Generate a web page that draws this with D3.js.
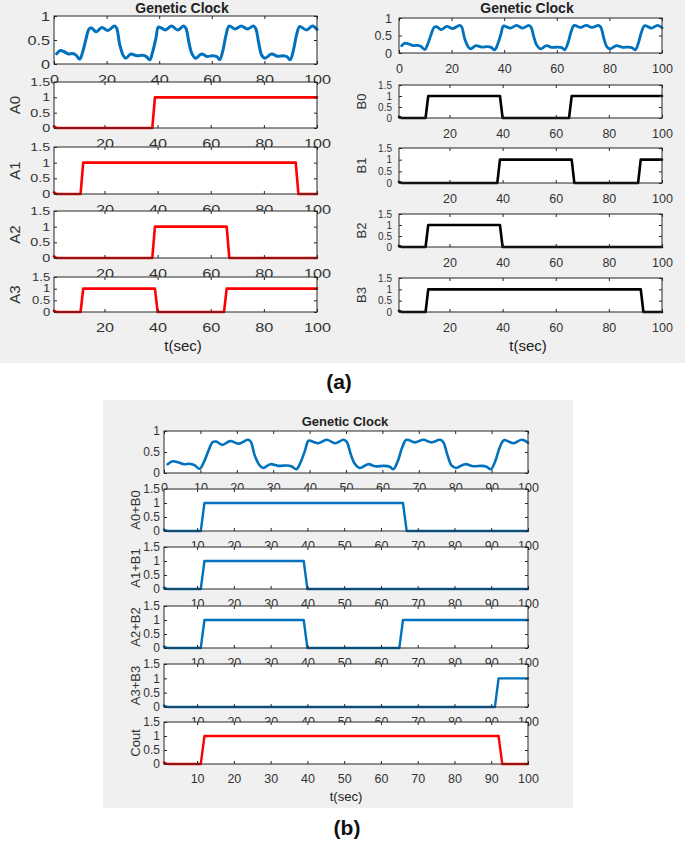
<!DOCTYPE html>
<html><head><meta charset="utf-8">
<script src="https://cdn.jsdelivr.net/npm/d3@7"></script>
<style>
body{margin:0;background:#fff;}
svg{display:block;}
text{font-family:"Liberation Sans",Arial,sans-serif;}
</style></head><body>
<svg id="c" width="685" height="841"></svg>
<script>
// ---------- data ----------
const clockT = [1,2.4,4,5.5,7,8.3,9.8,10.9,12.3,13.3,14.3,16,18.2,20.5,23,23.8,25,26.4,27.3,29.2,31.5,33.7,35,36.4,37.5,38.8,39.7,41.1,42.4,44.7,47,49.3,50.2,51.3,52.4,53.8,56.1,58,60.4,62,63,64.3,65.4,66.6,68.9,71.2,73.5,75.8,76.7,77.9,79,80.2,82.7,85,87.3,88.6,89.8,91,92.2,93.4,96,98.3,100];
const clockV = [0.21,0.28,0.25,0.21,0.22,0.19,0.10,0.25,0.55,0.73,0.75,0.67,0.76,0.70,0.79,0.75,0.40,0.17,0.12,0.21,0.17,0.18,0.16,0.09,0.25,0.55,0.77,0.74,0.71,0.79,0.71,0.79,0.74,0.45,0.22,0.12,0.21,0.16,0.17,0.15,0.09,0.30,0.60,0.79,0.73,0.79,0.73,0.79,0.74,0.42,0.18,0.12,0.21,0.16,0.17,0.15,0.09,0.28,0.60,0.78,0.71,0.79,0.72];

const A0_t = [1,2,38,39,100],               A0_v = [0.05,0,0,1,1];
const A1_t = [1,2,11,12,92,93,100],         A1_v = [0.05,0,0,1,1,0,0];
const A2_t = [1,2,38,39,66,67,100],         A2_v = [0.05,0,0,1,1,0,0];
const A3_t = [1,2,11,12,39,40,65,66,100],   A3_v = [0.05,0,0,1,1,0,0,1,1];
const B0_t = [1,2,11,12,39,40,65,66,100],   B0_v = [0.05,0,0,1,1,0,0,1,1];
const B1_t = [1,2,38,39,66,67,91,92,100],   B1_v = [0.05,0,0,1,1,0,0,1,1];
const B2_t = [1,2,11,12,39,40,100],         B2_v = [0.05,0,0,1,1,0,0];
const B3_t = [1,2,11,12,92,93,100],         B3_v = [0.05,0,0,1,1,0,0];
const S0_t = [1,2,11,12,66,67,100],         S0_v = [0.05,0,0,1,1,0,0];   // A0+B0
const S1_t = [1,2,11,12,39,40,100],         S1_v = [0.05,0,0,1,1,0,0];   // A1+B1
const S2_t = [1,2,11,12,39,40,65,66,100],   S2_v = [0.05,0,0,1,1,0,0,1,1]; // A2+B2
const S3_t = [1,2,91,92,100],               S3_v = [0.05,0,0,1,1];       // A3+B3
const Cout_t = [1,2,11,12,92,93,100],       Cout_v = [0.05,0,0,1,1,0,0];

const xTicksClockA = [0,20,40,60,80,100];
const xTicksA = [20,40,60,80,100];
const xTicksClockB = [0,10,20,30,40,50,60,70,80,90,100];
const xTicksB = [10,20,30,40,50,60,70,80,90,100];
const yTicksClock = [0,0.5,1];
const yTicksBin = [0,0.5,1,1.5];

const BLUE = "#0072BD", RED = "#FF0000", BLACK = "#000000";
const AXC = "#262626";

// ---------- drawing ----------
const svg = d3.select("#c");
svg.append("rect").attr("x",0).attr("y",0).attr("width",685).attr("height",363).attr("fill","#f0f0f0");
svg.append("rect").attr("x",103).attr("y",400).attr("width",470).attr("height",408).attr("fill","#f0f0f0");

function panel(o){
  const g = svg.append("g");
  const sx = o.sx || 1;
  const x = d3.scaleLinear().domain(o.xd).range([o.x0,o.x1]);
  const y = d3.scaleLinear().domain(o.yd).range([o.y1,o.y0]);
  g.append("rect").attr("x",o.x0).attr("y",o.y0).attr("width",o.x1-o.x0).attr("height",o.y1-o.y0).attr("fill","#fff");
  const pts = o.t.map((t,i)=>[t,o.v[i]]);
  const line = d3.line().x(d=>x(d[0])).y(d=>y(d[1])).curve(o.curve||d3.curveLinear);
  g.append("path").attr("d",line(pts)).attr("fill","none").attr("stroke",o.color)
    .attr("stroke-width",o.lw).attr("stroke-linejoin","round").attr("stroke-linecap","round");
  const fmt = d3.format("");
  const style = fs => sel=>{
    sel.select(".domain").remove();
    sel.selectAll("line").attr("stroke",AXC);
    sel.selectAll("text").attr("fill","#333").attr("font-size",fs)
      .attr("font-family","Liberation Sans, Arial, sans-serif")
      .attr("transform",`scale(${sx},1)`);
  };
  g.append("g").attr("transform",`translate(0,${o.y1})`)
    .call(d3.axisBottom(x).tickValues(o.xt).tickSize(-3).tickPadding(o.pad).tickFormat(fmt)).call(style(o.fs));
  g.append("g").attr("transform",`translate(0,${o.y0})`)
    .call(d3.axisTop(x).tickValues(o.xt).tickSize(-3).tickFormat("")).call(style(o.fs));
  g.append("g").attr("transform",`translate(${o.x0},0)`)
    .call(d3.axisLeft(y).tickValues(o.yt).tickSize(-3).tickPadding(o.ypad).tickFormat(fmt)).call(style(o.yfsT||o.fs));
  g.append("g").attr("transform",`translate(${o.x1},0)`)
    .call(d3.axisRight(y).tickValues(o.yt).tickSize(-3).tickFormat("")).call(style(o.fs));
  g.append("rect").attr("x",o.x0).attr("y",o.y0).attr("width",o.x1-o.x0).attr("height",o.y1-o.y0)
    .attr("fill","none").attr("stroke",AXC).attr("stroke-width",1);
  if(o.ylabel){
    g.append("text").attr("transform",`translate(${o.ylx},${(o.y0+o.y1)/2}) rotate(-90)`)
      .attr("text-anchor","middle").attr("font-size",o.yfs).attr("fill","#333").text(o.ylabel);
  }
}

// (a) left
const L = {x0:54,x1:317,fs:12.5,sx:1.3,pad:11,ypad:3,ylx:19.5,yfs:15,yfsT:11};
panel({...L,y0:16,y1:64,xd:[0,100],yd:[0,1],xt:xTicksClockA,yt:yTicksClock,t:clockT,v:clockV,color:BLUE,lw:3,curve:d3.curveCatmullRom.alpha(0.5),yfsT:12.5});
panel({...L,y0:82,y1:128,xd:[1,100],yd:[0,1.5],xt:xTicksA,yt:yTicksBin,t:A0_t,v:A0_v,color:RED,lw:2.6,ylabel:"A0"});
panel({...L,y0:147,y1:194,xd:[1,100],yd:[0,1.5],xt:xTicksA,yt:yTicksBin,t:A1_t,v:A1_v,color:RED,lw:2.6,ylabel:"A1"});
panel({...L,y0:211,y1:258,xd:[1,100],yd:[0,1.5],xt:xTicksA,yt:yTicksBin,t:A2_t,v:A2_v,color:RED,lw:2.6,ylabel:"A2"});
panel({...L,y0:277,y1:312,xd:[1,100],yd:[0,1.5],xt:xTicksA,yt:yTicksBin,t:A3_t,v:A3_v,color:RED,lw:2.6,ylabel:"A3",yfsT:10});

// (a) right
const R = {x0:399,x1:662,fs:12.5,pad:11,ypad:7,ylx:365.5,yfs:13,yfsT:10};
panel({...R,y0:18,y1:53,xd:[0,100],yd:[0,1],xt:xTicksClockA,yt:yTicksClock,t:clockT,v:clockV,color:BLUE,lw:2.8,curve:d3.curveCatmullRom.alpha(0.5),yfsT:12.5});
panel({...R,y0:85,y1:118,xd:[1,100],yd:[0,1.5],xt:xTicksA,yt:yTicksBin,t:B0_t,v:B0_v,color:BLACK,lw:2.6,ylabel:"B0"});
panel({...R,y0:148,y1:183,xd:[1,100],yd:[0,1.5],xt:xTicksA,yt:yTicksBin,t:B1_t,v:B1_v,color:BLACK,lw:2.6,ylabel:"B1"});
panel({...R,y0:214,y1:247,xd:[1,100],yd:[0,1.5],xt:xTicksA,yt:yTicksBin,t:B2_t,v:B2_v,color:BLACK,lw:2.6,ylabel:"B2"});
panel({...R,y0:278,y1:312,xd:[1,100],yd:[0,1.5],xt:xTicksA,yt:yTicksBin,t:B3_t,v:B3_v,color:BLACK,lw:2.6,ylabel:"B3"});

// (b)
const Bp = {x0:164,x1:528,fs:12.5,pad:10,ypad:4,ylx:139.5,yfs:13,yfsT:12};
panel({...Bp,y0:431,y1:473,xd:[0,100],yd:[0,1],xt:xTicksClockB,yt:yTicksClock,t:clockT,v:clockV,color:BLUE,lw:2.6,curve:d3.curveCatmullRom.alpha(0.5)});
panel({...Bp,y0:489,y1:531,xd:[1,100],yd:[0,1.5],xt:xTicksB,yt:yTicksBin,t:S0_t,v:S0_v,color:BLUE,lw:2.4,ylabel:"A0+B0"});
panel({...Bp,y0:547,y1:589,xd:[1,100],yd:[0,1.5],xt:xTicksB,yt:yTicksBin,t:S1_t,v:S1_v,color:BLUE,lw:2.4,ylabel:"A1+B1"});
panel({...Bp,y0:606,y1:648,xd:[1,100],yd:[0,1.5],xt:xTicksB,yt:yTicksBin,t:S2_t,v:S2_v,color:BLUE,lw:2.4,ylabel:"A2+B2"});
panel({...Bp,y0:664,y1:707,xd:[1,100],yd:[0,1.5],xt:xTicksB,yt:yTicksBin,t:S3_t,v:S3_v,color:BLUE,lw:2.4,ylabel:"A3+B3"});
panel({...Bp,y0:722,y1:764,xd:[1,100],yd:[0,1.5],xt:xTicksB,yt:yTicksBin,t:Cout_t,v:Cout_v,color:RED,lw:2.4,ylabel:"Cout"});

// titles and labels
function txt(x,y,s,fs,w,anchor){
  svg.append("text").attr("x",x).attr("y",y).attr("text-anchor",anchor||"middle")
    .attr("font-size",fs).attr("font-weight",w||"normal").attr("fill","#222").text(s);
}
txt(182,12.5,"Genetic Clock",14,"bold");
txt(527,13,"Genetic Clock",14,"bold");
txt(345,426,"Genetic Clock",13,"bold");
txt(183,351,"t(sec)",15);
txt(528,351,"t(sec)",15);
txt(346,801,"t(sec)",13);
svg.append("text").attr("x",339).attr("y",389).attr("text-anchor","middle").attr("font-size",21)
  .attr("font-weight","bold").attr("font-family","Lato, 'Open Sans', sans-serif").attr("fill","#111").text("(a)");
svg.append("text").attr("x",347).attr("y",835).attr("text-anchor","middle").attr("font-size",21)
  .attr("font-weight","bold").attr("font-family","Lato, 'Open Sans', sans-serif").attr("fill","#111").text("(b)");
</script>
</body></html>
